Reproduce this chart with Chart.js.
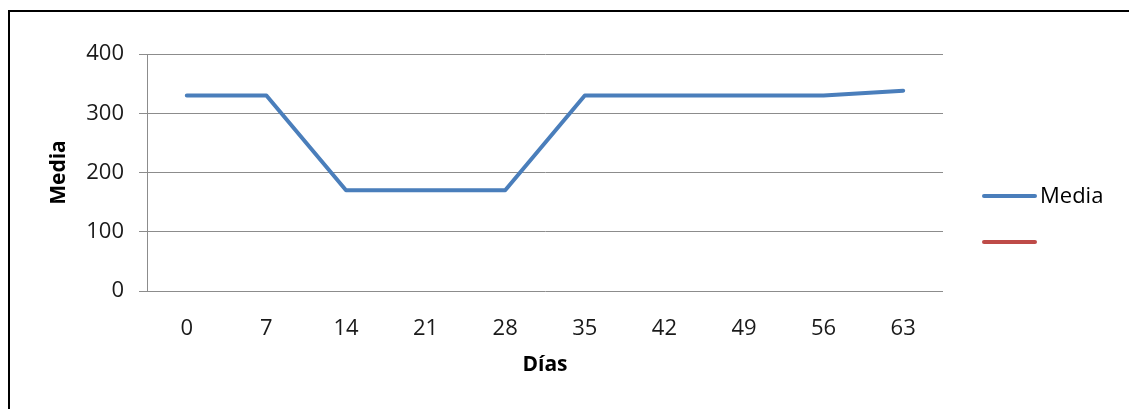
<!DOCTYPE html>
<html>
<head>
<meta charset="utf-8">
<title>Media por días</title>
<script src="https://cdn.jsdelivr.net/npm/chart.js@4.4.1/dist/chart.umd.min.js"></script>
<style>
  html, body { margin: 0; padding: 0; background: #fff; overflow: hidden; }
  #wrap { position: relative; width: 1129px; height: 409px; }
  #frame { position: absolute; left: 8px; top: 10px; width: 1200px; height: 500px;
           border: 2px solid #000; pointer-events: none; }
  canvas { position: absolute; left: 0; top: 0; }
</style>
</head>
<body>
<div id="wrap">
  <canvas id="chart" width="1129" height="409"></canvas>
  <div id="frame"></div>
</div>
<script>
// Days of measurement and the mean value at each day
const dias = ['0', '7', '14', '21', '28', '35', '42', '49', '56', '63'];
const media = [330, 330, 170, 170, 170, 330, 330, 330, 330, 338];
// Second series has no label and no points
const serie2 = [];
const yTicks = [0, 100, 200, 300, 400];

const FONT = "'Open Sans', 'DejaVu Sans', sans-serif";
const GRID = '#8c8c8c';
const TEXT = '#1a1a1a';

// Legend drawn to the right of the plot, one short line per series
const sideLegend = {
  id: 'sideLegend',
  afterDraw(chart) {
    const ctx = chart.ctx;
    ctx.save();
    chart.data.datasets.forEach((ds, i) => {
      const y = 196 + i * 46;
      ctx.beginPath();
      ctx.lineCap = 'round';
      ctx.lineWidth = 4;
      ctx.strokeStyle = ds.borderColor;
      ctx.moveTo(984, y);
      ctx.lineTo(1035, y);
      ctx.stroke();
      if (ds.label) {
        ctx.fillStyle = '#000';
        ctx.font = '22px ' + FONT;
        ctx.textBaseline = 'middle';
        ctx.textAlign = 'left';
        ctx.fillText(ds.label, 1040, y + 1);
      }
    });
    ctx.restore();
  }
};

new Chart(document.getElementById('chart'), {
  type: 'line',
  data: {
    labels: dias,
    datasets: [
      {
        label: 'Media',
        data: media,
        borderColor: '#4A7EBB',
        backgroundColor: '#4A7EBB',
        borderWidth: 4,
        pointRadius: 0,
        tension: 0,
        borderCapStyle: 'round',
        borderJoinStyle: 'round'
      },
      {
        label: '',
        data: serie2,
        borderColor: '#BE4B48',
        backgroundColor: '#BE4B48',
        borderWidth: 4,
        pointRadius: 0
      }
    ]
  },
  options: {
    responsive: false,
    animation: false,
    events: [],
    layout: { padding: { left: 0, top: 54, right: 186, bottom: 0 } },
    plugins: {
      legend: { display: false },
      tooltip: { enabled: false }
    },
    scales: {
      x: {
        offset: true,
        grid: { display: false, drawTicks: false },
        border: { display: false },
        ticks: { color: TEXT, font: { family: FONT, size: 22 }, padding: 25, maxRotation: 0 },
        title: {
          display: true, text: 'Días', color: '#000',
          font: { family: FONT, size: 21, weight: 'bold' },
          padding: { top: 0, bottom: 31 }
        },
        afterFit(scale) { scale.height = 118; }
      },
      y: {
        min: 0,
        max: 400,
        afterBuildTicks(scale) { scale.ticks = yTicks.map(v => ({ value: v })); },
        grid: { color: GRID, lineWidth: 1, drawTicks: true, tickLength: 8, tickColor: GRID },
        border: { display: true, color: GRID, width: 1 },
        ticks: { color: TEXT, font: { family: FONT, size: 22 }, padding: 15 },
        title: {
          display: true, text: 'Media', color: '#000',
          font: { family: FONT, size: 21, weight: 'bold' },
          padding: { top: 46, bottom: 0 }
        },
        afterFit(scale) { scale.width = 147; }
      }
    }
  },
  plugins: [sideLegend]
});
</script>
</body>
</html>
